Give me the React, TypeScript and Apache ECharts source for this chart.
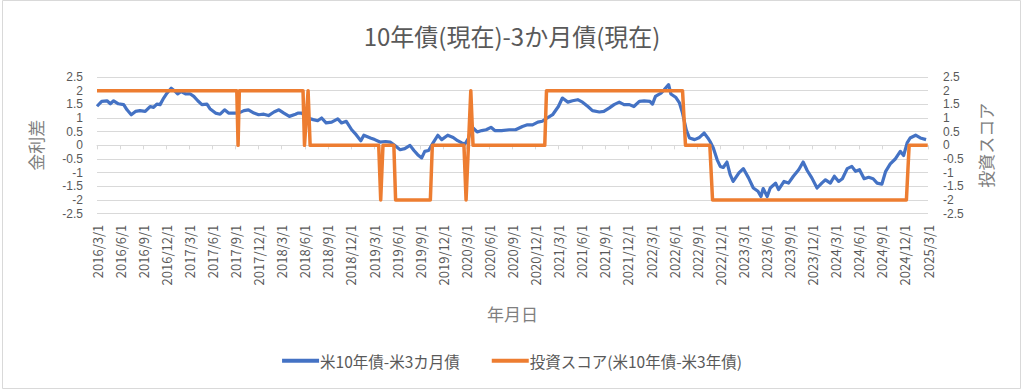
import React, { useEffect, useRef } from "react";
import * as echarts from "echarts";

const titleText = "10年債(現在)-3か月債(現在)";
const leftAxisName = "金利差";
const rightAxisName = "投資スコア";
const xAxisName = "年月日";
const blueName = "米10年債-米3カ月債";
const orangeName = "投資スコア(米10年債-米3年債)";

const tickLabels = [
  "2016/3/1", "2016/6/1", "2016/9/1", "2016/12/1",
  "2017/3/1", "2017/6/1", "2017/9/1", "2017/12/1",
  "2018/3/1", "2018/6/1", "2018/9/1", "2018/12/1",
  "2019/3/1", "2019/6/1", "2019/9/1", "2019/12/1",
  "2020/3/1", "2020/6/1", "2020/9/1", "2020/12/1",
  "2021/3/1", "2021/6/1", "2021/9/1", "2021/12/1",
  "2022/3/1", "2022/6/1", "2022/9/1", "2022/12/1",
  "2023/3/1", "2023/6/1", "2023/9/1", "2023/12/1",
  "2024/3/1", "2024/6/1", "2024/9/1", "2024/12/1",
  "2025/3/1",
];

const blueDates = [
  "2016-03-01", "2016-03-20", "2016-04-10", "2016-04-23", "2016-05-06", "2016-05-25",
  "2016-06-15", "2016-06-28", "2016-07-15", "2016-08-01", "2016-08-19", "2016-09-09",
  "2016-09-28", "2016-10-12", "2016-10-25", "2016-11-07", "2016-11-21", "2016-12-04",
  "2016-12-21", "2017-01-04", "2017-01-16", "2017-01-30", "2017-02-15", "2017-03-05",
  "2017-03-19", "2017-04-04", "2017-04-20", "2017-05-10", "2017-05-22", "2017-06-13",
  "2017-07-01", "2017-07-19", "2017-08-04", "2017-08-25", "2017-09-13", "2017-10-04",
  "2017-10-22", "2017-11-13", "2017-12-01", "2017-12-22", "2018-01-10", "2018-02-01",
  "2018-02-19", "2018-03-10", "2018-04-01", "2018-04-25", "2018-05-04", "2018-05-19",
  "2018-06-13", "2018-07-04", "2018-07-22", "2018-08-07", "2018-08-25", "2018-09-16",
  "2018-10-10", "2018-10-25", "2018-11-13", "2018-12-04", "2018-12-22", "2019-01-10",
  "2019-01-22", "2019-02-16", "2019-03-04", "2019-03-25", "2019-04-16", "2019-05-04",
  "2019-05-22", "2019-06-13", "2019-07-01", "2019-07-22", "2019-08-07", "2019-08-22",
  "2019-09-07", "2019-09-19", "2019-10-04", "2019-10-22", "2019-11-10", "2019-11-25",
  "2019-12-19", "2020-01-10", "2020-01-28", "2020-02-13", "2020-02-25", "2020-03-10",
  "2020-03-22", "2020-04-13", "2020-05-01", "2020-05-19", "2020-06-07", "2020-06-22",
  "2020-07-19", "2020-08-19", "2020-09-13", "2020-10-10", "2020-10-30", "2020-11-19",
  "2020-12-10", "2020-12-28", "2021-01-16", "2021-02-07", "2021-02-28", "2021-03-16",
  "2021-04-07", "2021-04-25", "2021-05-16", "2021-06-04", "2021-06-25", "2021-07-13",
  "2021-08-10", "2021-08-28", "2021-09-19", "2021-10-07", "2021-10-28", "2021-11-16",
  "2021-12-07", "2021-12-25", "2022-01-16", "2022-02-04", "2022-02-25", "2022-03-07",
  "2022-03-19", "2022-04-10", "2022-04-22", "2022-05-10", "2022-05-19", "2022-06-07",
  "2022-06-22", "2022-07-04", "2022-07-19", "2022-08-01", "2022-08-22", "2022-09-10",
  "2022-09-28", "2022-10-13", "2022-10-22", "2022-11-04", "2022-11-19", "2022-12-01",
  "2022-12-13", "2022-12-28", "2023-01-10", "2023-01-22", "2023-02-13", "2023-03-01",
  "2023-03-22", "2023-04-10", "2023-04-28", "2023-05-10", "2023-05-19", "2023-06-04",
  "2023-06-16", "2023-07-07", "2023-07-19", "2023-08-10", "2023-08-28", "2023-09-16",
  "2023-10-07", "2023-10-25", "2023-11-10", "2023-11-28", "2023-12-19", "2024-01-07",
  "2024-01-22", "2024-02-10", "2024-02-25", "2024-03-13", "2024-03-28", "2024-04-16",
  "2024-05-04", "2024-05-19", "2024-06-04", "2024-06-22", "2024-07-10", "2024-07-28",
  "2024-08-13", "2024-09-01", "2024-09-16", "2024-10-04", "2024-10-25", "2024-11-13",
  "2024-11-26", "2024-12-10", "2024-12-22", "2025-01-13", "2025-02-01", "2025-02-22",
];

const blueValues = [
  1.43, 1.61, 1.63, 1.52, 1.63, 1.52,
  1.49, 1.30, 1.12, 1.24, 1.27, 1.24,
  1.42, 1.39, 1.51, 1.49, 1.73, 1.91,
  2.09, 1.99, 1.88, 1.97, 1.88, 1.88,
  1.79, 1.63, 1.49, 1.51, 1.34, 1.18,
  1.14, 1.30, 1.18, 1.18, 1.18, 1.27,
  1.30, 1.18, 1.12, 1.14, 1.09, 1.22,
  1.30, 1.18, 1.06, 1.14, 1.18, 1.18,
  1.00, 0.94, 0.90, 1.00, 0.82, 0.85,
  0.97, 0.82, 0.88, 0.57, 0.39, 0.17,
  0.37, 0.27, 0.21, 0.12, 0.14, 0.12,
  0.00, -0.16, -0.12, 0.00, -0.19, -0.34,
  -0.46, -0.22, -0.19, 0.09, 0.37, 0.21,
  0.37, 0.29, 0.17, 0.09, 0.05, 0.27,
  0.69, 0.49, 0.54, 0.57, 0.66, 0.54,
  0.54, 0.57, 0.57, 0.69, 0.75, 0.75,
  0.85, 0.88, 1.00, 1.12, 1.42, 1.73,
  1.58, 1.63, 1.67, 1.58, 1.42, 1.27,
  1.22, 1.24, 1.37, 1.49, 1.58, 1.49,
  1.49, 1.42, 1.61, 1.63, 1.61, 1.51,
  1.79, 1.91, 2.03, 2.22, 1.88, 1.76,
  1.55, 1.18, 0.57, 0.27, 0.21, 0.29,
  0.45, 0.27, 0.14, -0.10, -0.53, -0.77,
  -0.81, -0.61, -1.07, -1.32, -1.01, -0.85,
  -1.19, -1.56, -1.68, -1.87, -1.58, -1.87,
  -1.56, -1.38, -1.62, -1.32, -1.38, -1.13,
  -0.89, -0.61, -0.92, -1.19, -1.56, -1.38,
  -1.26, -1.38, -1.13, -1.32, -1.22, -0.85,
  -0.77, -0.95, -0.89, -1.22, -1.17, -1.22,
  -1.38, -1.42, -0.95, -0.68, -0.49, -0.22,
  -0.37, 0.09, 0.27, 0.37, 0.27, 0.21,
];

const scoreDates = [
  "2016-03-01", "2017-09-06", "2017-09-11", "2017-09-16",
  "2018-05-25", "2018-05-31", "2018-06-14", "2018-06-22",
  "2019-03-20", "2019-03-28", "2019-04-06",
  "2019-05-19", "2019-05-26",
  "2019-10-11", "2019-10-19",
  "2020-02-21", "2020-02-29", "2020-03-19", "2020-03-28",
  "2021-01-07", "2021-01-14",
  "2022-07-04", "2022-07-16",
  "2022-10-21", "2022-11-01",
  "2024-12-07", "2024-12-18",
  "2025-02-28",
];

const scoreValues = [
  2, 2, 0, 2,
  2, 0, 2, 0,
  0, -2, 0,
  0, -2,
  -2, 0,
  0, -2, 2, 0,
  0, 2,
  2, 0,
  0, -2,
  -2, 0,
  0,
];

const FONT = "'Noto Sans CJK JP', 'Noto Sans', sans-serif";
const NUM_FONT = "'Liberation Sans', Arial, sans-serif";
const TEXT_COLOR = "#595959";
const NAME_COLOR = "#7f7f7f";
const GRID_COLOR = "#d9d9d9";

function monthsFromStart(s: string): number {
  const [y, m, d] = s.split("-").map(Number);
  const dim = new Date(y, m, 0).getDate();
  return (y - 2016) * 12 + (m - 3) + (d - 1) / dim;
}

export default function App() {
  const ref = useRef<HTMLDivElement>(null);

  useEffect(() => {
    if (!ref.current) return;
    const chart = echarts.init(ref.current, undefined, { renderer: "svg" });

    const blueData = blueDates.map((d, i) => [monthsFromStart(d), blueValues[i]]);
    const scoreData = scoreDates.map((d, i) => [monthsFromStart(d), scoreValues[i]]);
    const maxX = (tickLabels.length - 1) * 3;

    const yLabel = {
      color: TEXT_COLOR,
      fontSize: 12,
      lineHeight: 12,
      fontFamily: NUM_FONT,
      formatter: (v: number) => String(Math.round(v * 10) / 10),
    };

    const yAxisCommon = {
      type: "value",
      min: -2.5,
      max: 2.5,
      interval: 0.5,
      nameLocation: "middle",
      nameRotate: 90,
      nameTextStyle: { color: NAME_COLOR, fontSize: 17, fontFamily: FONT },
      axisLine: { show: false },
      axisTick: { show: false },
    };

    chart.setOption({
      animation: false,
      backgroundColor: "#ffffff",
      title: {
        text: titleText,
        left: "center",
        top: 18,
        textStyle: { color: TEXT_COLOR, fontSize: 24, fontWeight: "normal", fontFamily: FONT },
      },
      graphic: [
        {
          type: "rect",
          shape: { x: 2.5, y: 0.5, width: 1018, height: 388 },
          style: { fill: "none", stroke: GRID_COLOR, lineWidth: 1 },
          silent: true,
        },
      ],
      legend: {
        left: "center",
        top: 348,
        itemWidth: 37,
        itemHeight: 4,
        itemGap: 32,
        icon: "rect",
        textStyle: { color: TEXT_COLOR, fontSize: 15.5, fontFamily: FONT, padding: [0, 0, 0, -4] },
        data: [blueName, orangeName],
      },
      grid: { left: 97, right: 96, top: 77, bottom: 176.3, containLabel: false },
      xAxis: [
        {
          type: "value",
          min: 0,
          max: maxX,
          interval: 3,
          position: "bottom",
          name: xAxisName,
          nameLocation: "middle",
          nameGap: 91,
          nameTextStyle: { color: NAME_COLOR, fontSize: 17, fontFamily: FONT },
          axisLine: { show: false, onZero: false },
          axisTick: { show: false },
          splitLine: { show: false },
          axisLabel: {
            rotate: 90,
            margin: 11,
            color: TEXT_COLOR,
            fontSize: 13,
            fontFamily: FONT,
            formatter: (v: number) => tickLabels[Math.round(v / 3)] ?? "",
          },
        },
        {
          type: "value",
          min: 0,
          max: maxX,
          interval: 3,
          position: "bottom",
          axisLine: { show: true, onZero: true, onZeroAxisIndex: 0, lineStyle: { color: GRID_COLOR, width: 1 } },
          axisTick: { show: true, length: 4, lineStyle: { color: GRID_COLOR } },
          axisLabel: { show: false },
          splitLine: { show: false },
        },
      ],
      yAxis: [
        {
          ...yAxisCommon,
          position: "left",
          name: leftAxisName,
          nameGap: 53,
          splitLine: { show: true, lineStyle: { color: GRID_COLOR, width: 1 } },
          axisLabel: { ...yLabel, margin: 14 },
        },
        {
          ...yAxisCommon,
          position: "right",
          name: rightAxisName,
          nameGap: 49,
          splitLine: { show: false },
          axisLabel: { ...yLabel, margin: 15 },
        },
      ],
      series: [
        {
          name: blueName,
          type: "line",
          xAxisIndex: 0,
          yAxisIndex: 0,
          data: blueData,
          showSymbol: false,
          symbol: "none",
          lineStyle: { color: "#4472C4", width: 3.2, join: "round" },
          itemStyle: { color: "#4472C4" },
          z: 2,
        },
        {
          name: orangeName,
          type: "line",
          xAxisIndex: 0,
          yAxisIndex: 1,
          data: scoreData,
          showSymbol: false,
          symbol: "none",
          lineStyle: { color: "#ED7D31", width: 3.5, join: "round" },
          itemStyle: { color: "#ED7D31" },
          z: 3,
        },
      ],
    });

    return () => chart.dispose();
  }, []);

  return (
    <div
      ref={ref}
      style={{ position: "fixed", left: 0, top: 0, width: 1024, height: 390 }}
    />
  );
}
